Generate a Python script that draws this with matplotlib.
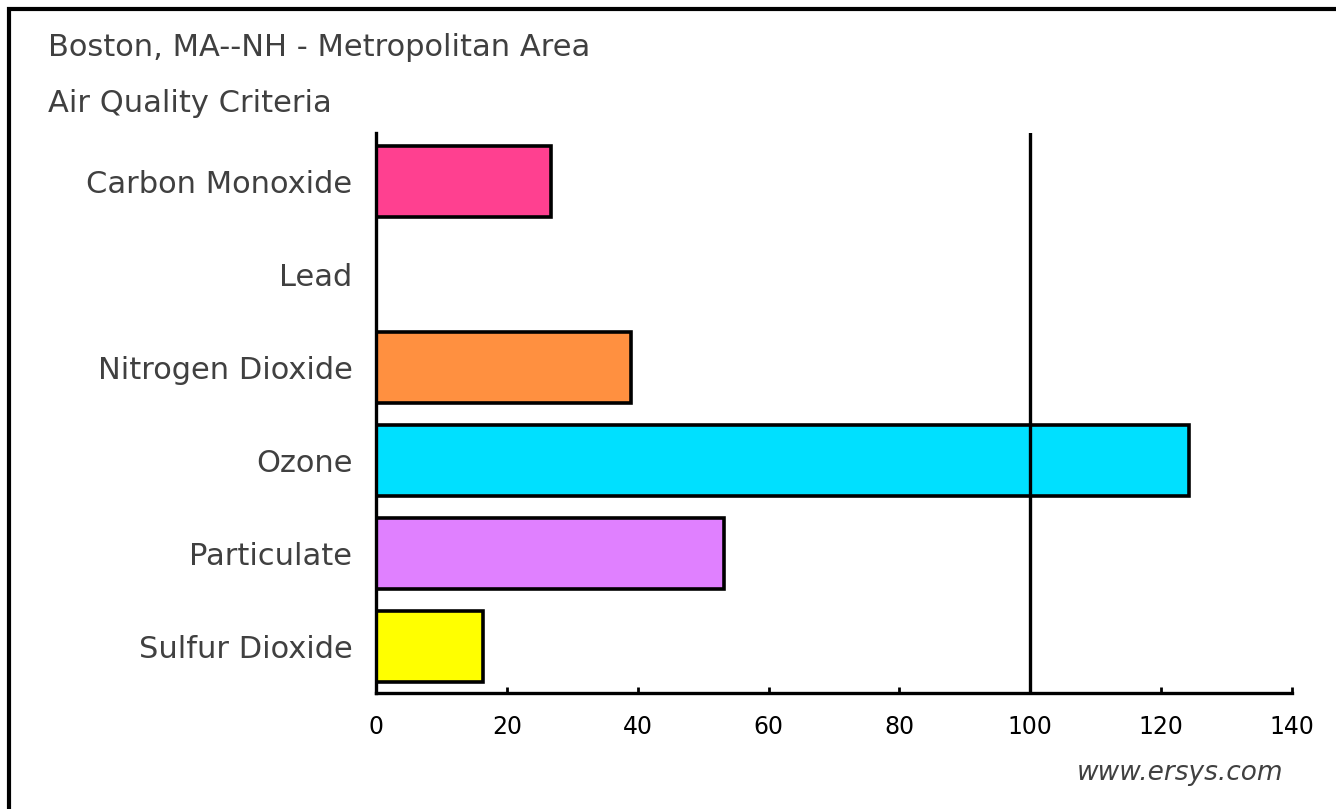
import matplotlib.pyplot as plt
from matplotlib.patches import Rectangle

plt.rcParams['font.family'] = 'DejaVu Sans'

# Air quality criteria, Boston metro area
pollutants = ['Carbon Monoxide', 'Lead', 'Nitrogen Dioxide', 'Ozone', 'Particulate', 'Sulfur Dioxide']
values = [26.7, 0, 39, 124.3, 53.2, 16.4]
colors = ['#FF4090', '#FFFFFF', '#FF9040', '#00E0FF', '#E080FF', '#FFFF00']
xticks = [0, 20, 40, 60, 80, 100, 120, 140]

fig = plt.figure(figsize=(13.36, 8.09), dpi=100)
fig.patch.set_facecolor('white')

# frame round the whole chart
fig.patches.append(Rectangle((9 / 1336, -0.05), 1.2, 1 - 9 / 809 + 0.05, transform=fig.transFigure,
                             fill=False, edgecolor='black', linewidth=3, zorder=0))

ax = fig.add_axes([376 / 1336, 1 - 693 / 809, (1292 - 376) / 1336, (693 - 133) / 809])

ypos = list(range(len(pollutants)))
for y, v, c in zip(ypos, values, colors):
    if v > 0:
        ax.barh(y, v, height=0.77, color=c, edgecolor='black', linewidth=2.6, zorder=2)

ax.axvline(100, color='black', linewidth=2.4, zorder=3)

ax.set_xlim(0, 140)
ax.set_ylim(len(pollutants) - 0.5, -0.52)

ax.set_yticks(ypos)
ax.set_yticklabels(pollutants, fontsize=22, color='#404040')
ax.tick_params(axis='y', length=0, pad=17)

ax.set_xticks(xticks)
ax.set_xticklabels([str(t) for t in xticks], fontsize=17, color='black')
ax.tick_params(axis='x', direction='in', length=4, width=2, pad=16)

for side in ['top', 'right']:
    ax.spines[side].set_visible(False)
for side in ['left', 'bottom']:
    ax.spines[side].set_linewidth(2.4)

fig.text(48 / 1336, 1 - 48 / 809, 'Boston, MA--NH - Metropolitan Area', fontsize=22,
         color='#404040', ha='left', va='center')
fig.text(48 / 1336, 1 - 103 / 809, 'Air Quality Criteria', fontsize=22,
         color='#404040', ha='left', va='center')
fig.text(1283 / 1336, 1 - 773 / 809, 'www.ersys.com', fontsize=19, style='italic',
         color='#404040', ha='right', va='center')

fig.savefig('out.png', dpi=100)
